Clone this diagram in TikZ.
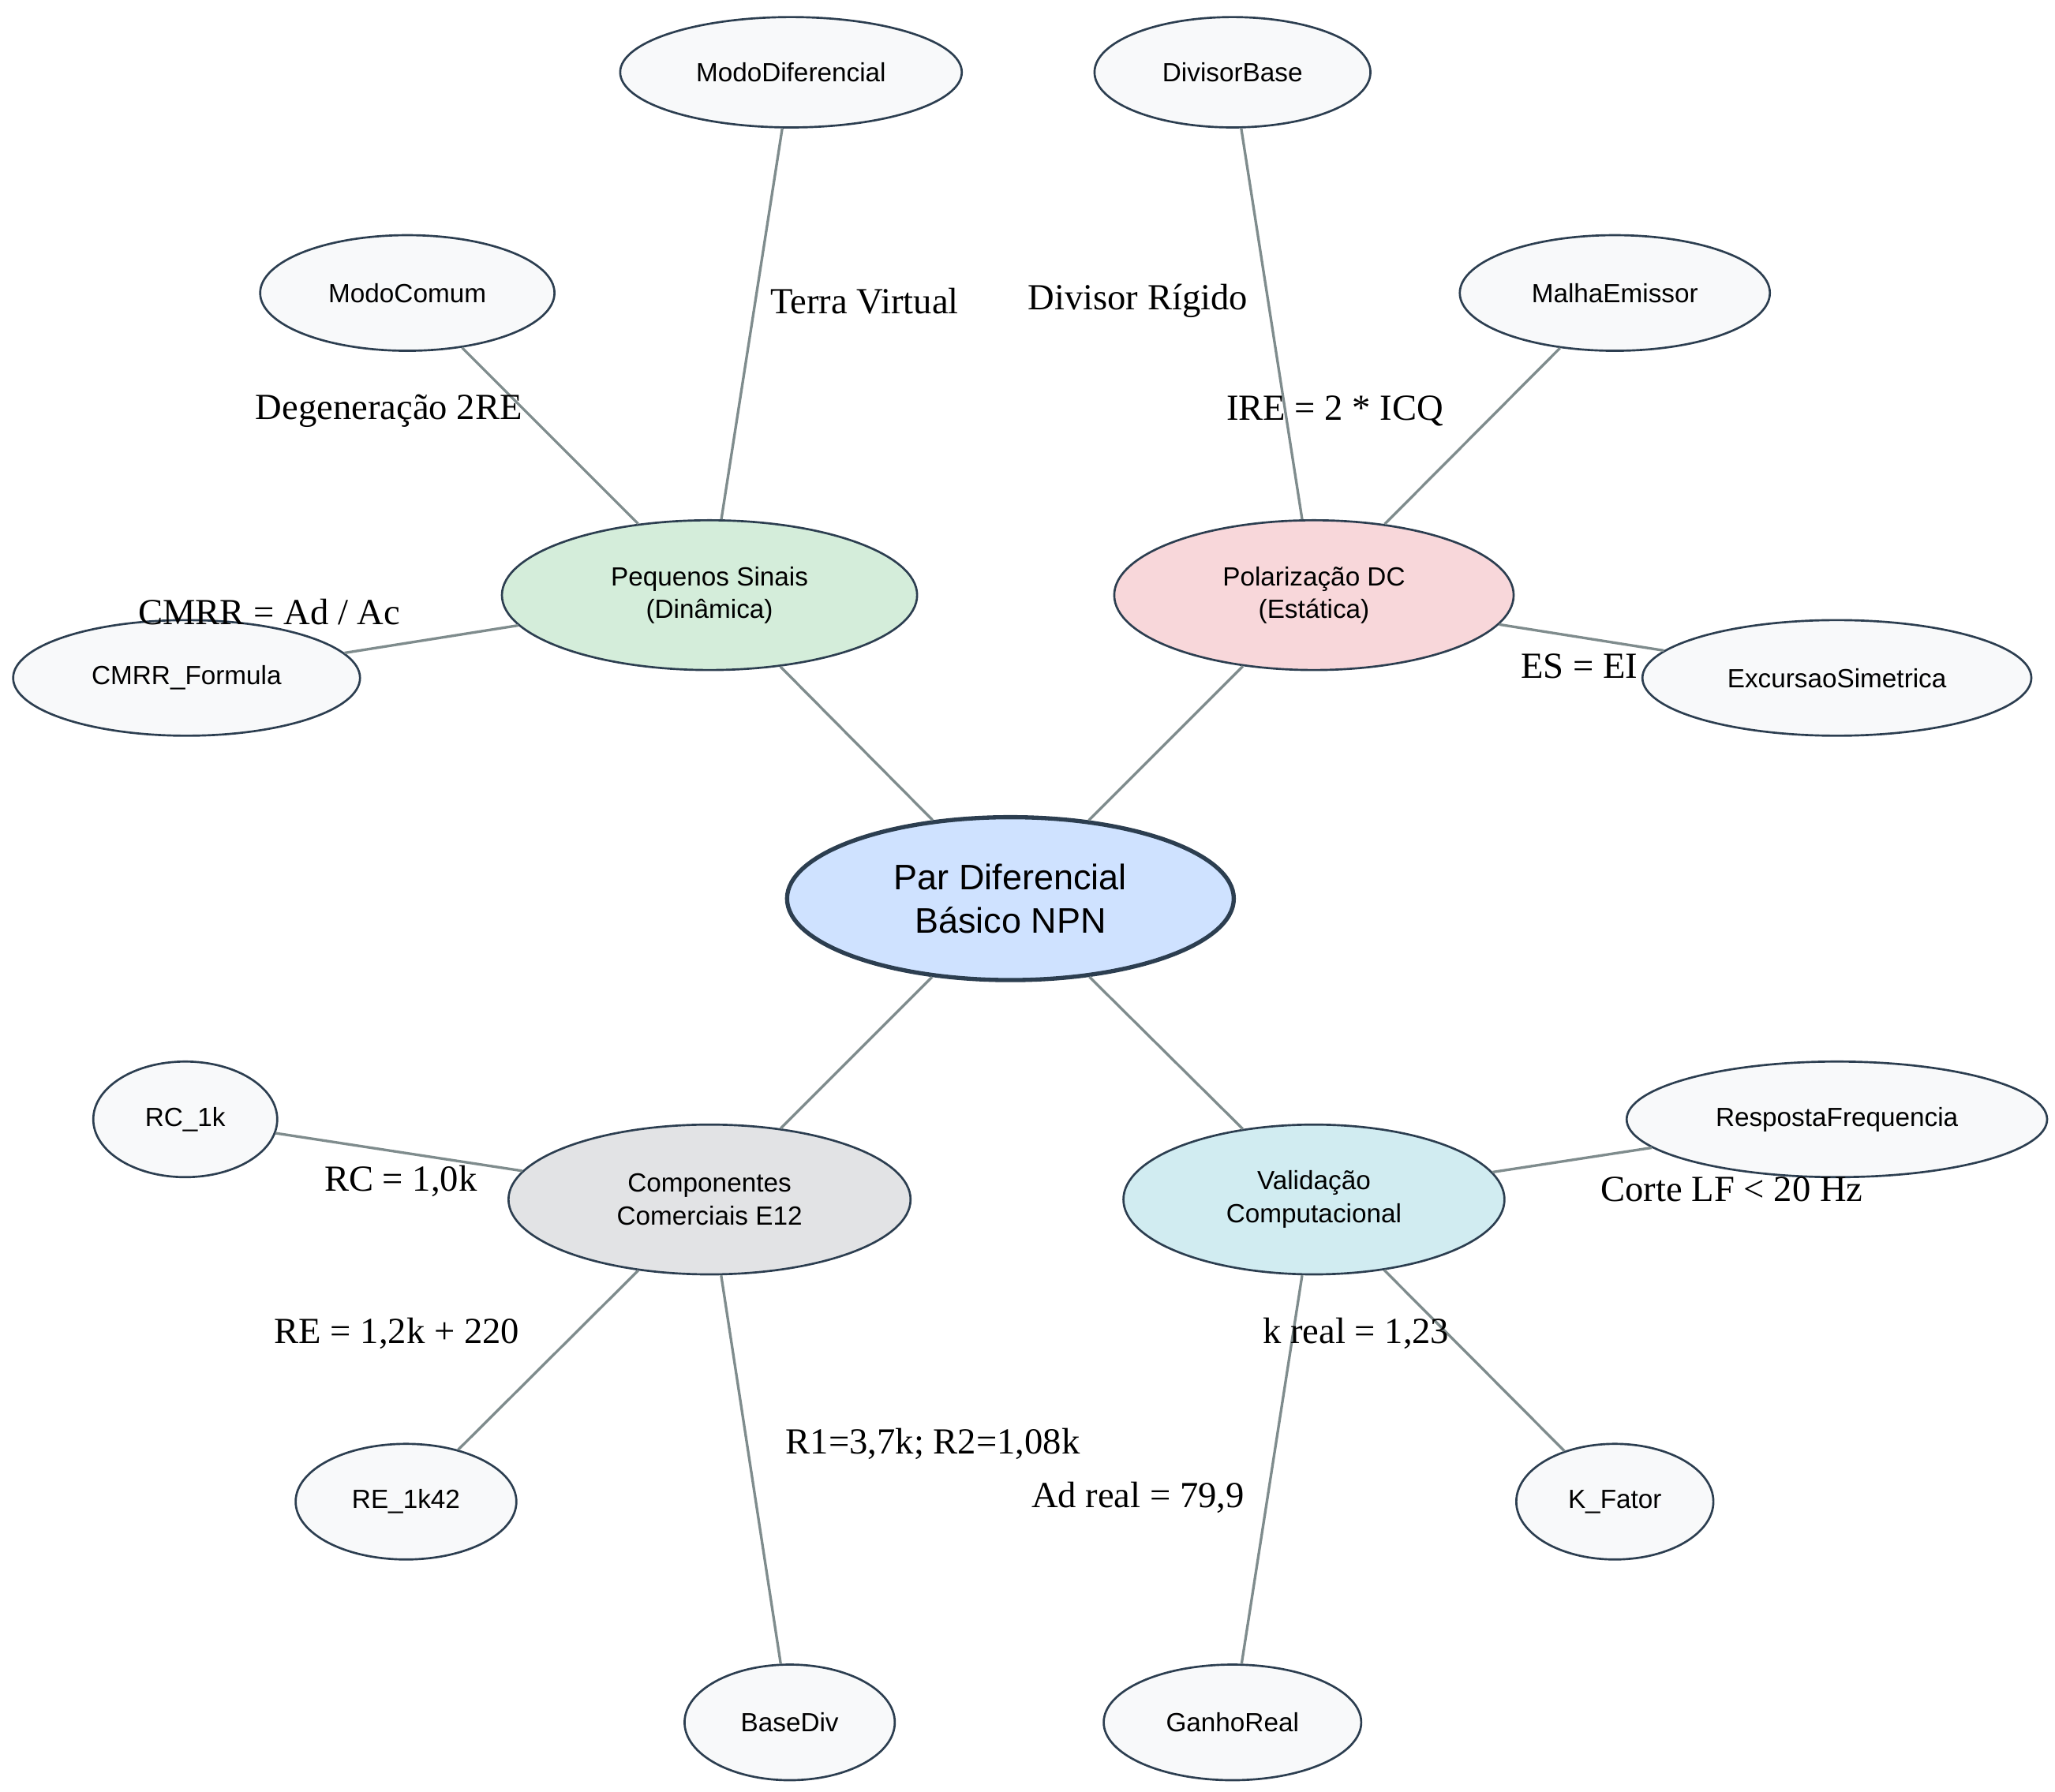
\documentclass[tikz,border=0pt]{standalone}
\usepackage{fontspec}
\usetikzlibrary{shapes.geometric}
\setmainfont{Liberation Serif}
\newfontfamily\arialfont{Liberation Sans}
\definecolor{edgecol}{HTML}{7F8C8D}
\definecolor{bordercol}{HTML}{2C3E50}
\definecolor{leaffill}{HTML}{F8F9FA}
\definecolor{greenfill}{HTML}{D4EDDA}
\definecolor{pinkfill}{HTML}{F8D7DA}
\definecolor{grayfill}{HTML}{E2E3E5}
\definecolor{cyanfill}{HTML}{D1ECF1}
\definecolor{bluefill}{HTML}{CFE2FF}
\begin{document}
\begin{tikzpicture}[x=1pt,y=-1pt,
          leaf/.style={ellipse, draw=bordercol, fill=leaffill, line width=1.6pt,
            inner sep=0pt, font=\arialfont\fontsize{20}{24}\selectfont},
          hub/.style={ellipse, draw=bordercol, line width=1.6pt, inner sep=0pt,
            align=center, font=\arialfont\fontsize{20}{25}\selectfont},
          edge/.style={draw=edgecol, line width=2pt},
          lbl/.style={font=\fontsize{28}{32}\selectfont}]
        \useasboundingbox (0,0) rectangle (1564,1364);

        \node[hub, line width=3.2pt, fill=bluefill, minimum width=340pt, minimum height=124pt,
          font=\arialfont\fontsize{27}{33}\selectfont] (par) at (769,684) {Par Diferencial\\Básico NPN};

        \node[hub, fill=greenfill, minimum width=316pt, minimum height=114pt] (peq) at (540,453) {Pequenos Sinais\\(Dinâmica)};
        \node[hub, fill=pinkfill,  minimum width=304pt, minimum height=114pt] (pol) at (1000,453) {Polarização DC\\(Estática)};
        \node[hub, fill=grayfill,  minimum width=306pt, minimum height=114pt] (comp) at (540,913) {Componentes\\Comerciais E12};
        \node[hub, fill=cyanfill,  minimum width=290pt, minimum height=114pt] (val) at (1000,913) {Validação\\Computacional};

        \node[leaf, minimum width=260pt, minimum height=84pt] (mdif) at (602,55) {ModoDiferencial};
        \node[leaf, minimum width=224pt, minimum height=88pt] (mcom) at (310,223) {ModoComum};
        \node[leaf, minimum width=264pt, minimum height=88pt] (cmrr) at (142,516) {CMRR\_Formula};
        \node[leaf, minimum width=210pt, minimum height=84pt] (dbase) at (938,55) {DivisorBase};
        \node[leaf, minimum width=236pt, minimum height=88pt] (malha) at (1229,223) {MalhaEmissor};
        \node[leaf, minimum width=296pt, minimum height=88pt] (exc) at (1398,516) {ExcursaoSimetrica};
        \node[leaf, minimum width=140pt, minimum height=88pt] (rc) at (141,852) {RC\_1k};
        \node[leaf, minimum width=168pt, minimum height=88pt] (re) at (309,1143) {RE\_1k42};
        \node[leaf, minimum width=160pt, minimum height=88pt] (bdiv) at (601,1311) {BaseDiv};
        \node[leaf, minimum width=320pt, minimum height=88pt] (resp) at (1398,852) {RespostaFrequencia};
        \node[leaf, minimum width=150pt, minimum height=88pt] (kfat) at (1229,1143) {K\_Fator};
        \node[leaf, minimum width=196pt, minimum height=88pt] (ganho) at (938,1311) {GanhoReal};

        \draw[edge] (par) -- (peq);
        \draw[edge] (par) -- (pol);
        \draw[edge] (par) -- (comp);
        \draw[edge] (par) -- (val);

        \draw[edge] (peq) -- (mdif);
        \draw[edge] (peq) -- (mcom);
        \draw[edge] (peq) -- (cmrr);
        \draw[edge] (pol) -- (dbase);
        \draw[edge] (pol) -- (malha);
        \draw[edge] (pol) -- (exc);
        \draw[edge] (comp) -- (rc);
        \draw[edge] (comp) -- (re);
        \draw[edge] (comp) -- (bdiv);
        \draw[edge] (val) -- (resp);
        \draw[edge] (val) -- (kfat);
        \draw[edge] (val) -- (ganho);

        % edge labels
        \node[lbl] (l1)  at (658,229)  {Terra Virtual};
        \node[lbl] (l2)  at (866,229)  {Divisor Rígido};
        \node[lbl] (l3)  at (296,313)  {Degeneração 2RE};
        \node[lbl] (l4)  at (1016,313) {IRE = 2 * ICQ};
        \node[lbl] (l5)  at (205,466)  {CMRR = Ad / Ac};
        \node[lbl] (l6)  at (1202,507) {ES = EI};
        \node[lbl] (l7)  at (305,899)  {RC = 1,0k};
        \node[lbl] (l8)  at (1318,905) {Corte LF < 20 Hz};
        \node[lbl] (l9)  at (302,1015) {RE = 1,2k + 220};
        \node[lbl] (l10) at (1032,1015) {k real = 1,23};
        \node[lbl] (l11) at (710,1099) {R1=3,7k; R2=1,08k};
        \node[lbl] (l12) at (866,1140) {Ad real = 79,9};

      \end{tikzpicture}
\end{document}
